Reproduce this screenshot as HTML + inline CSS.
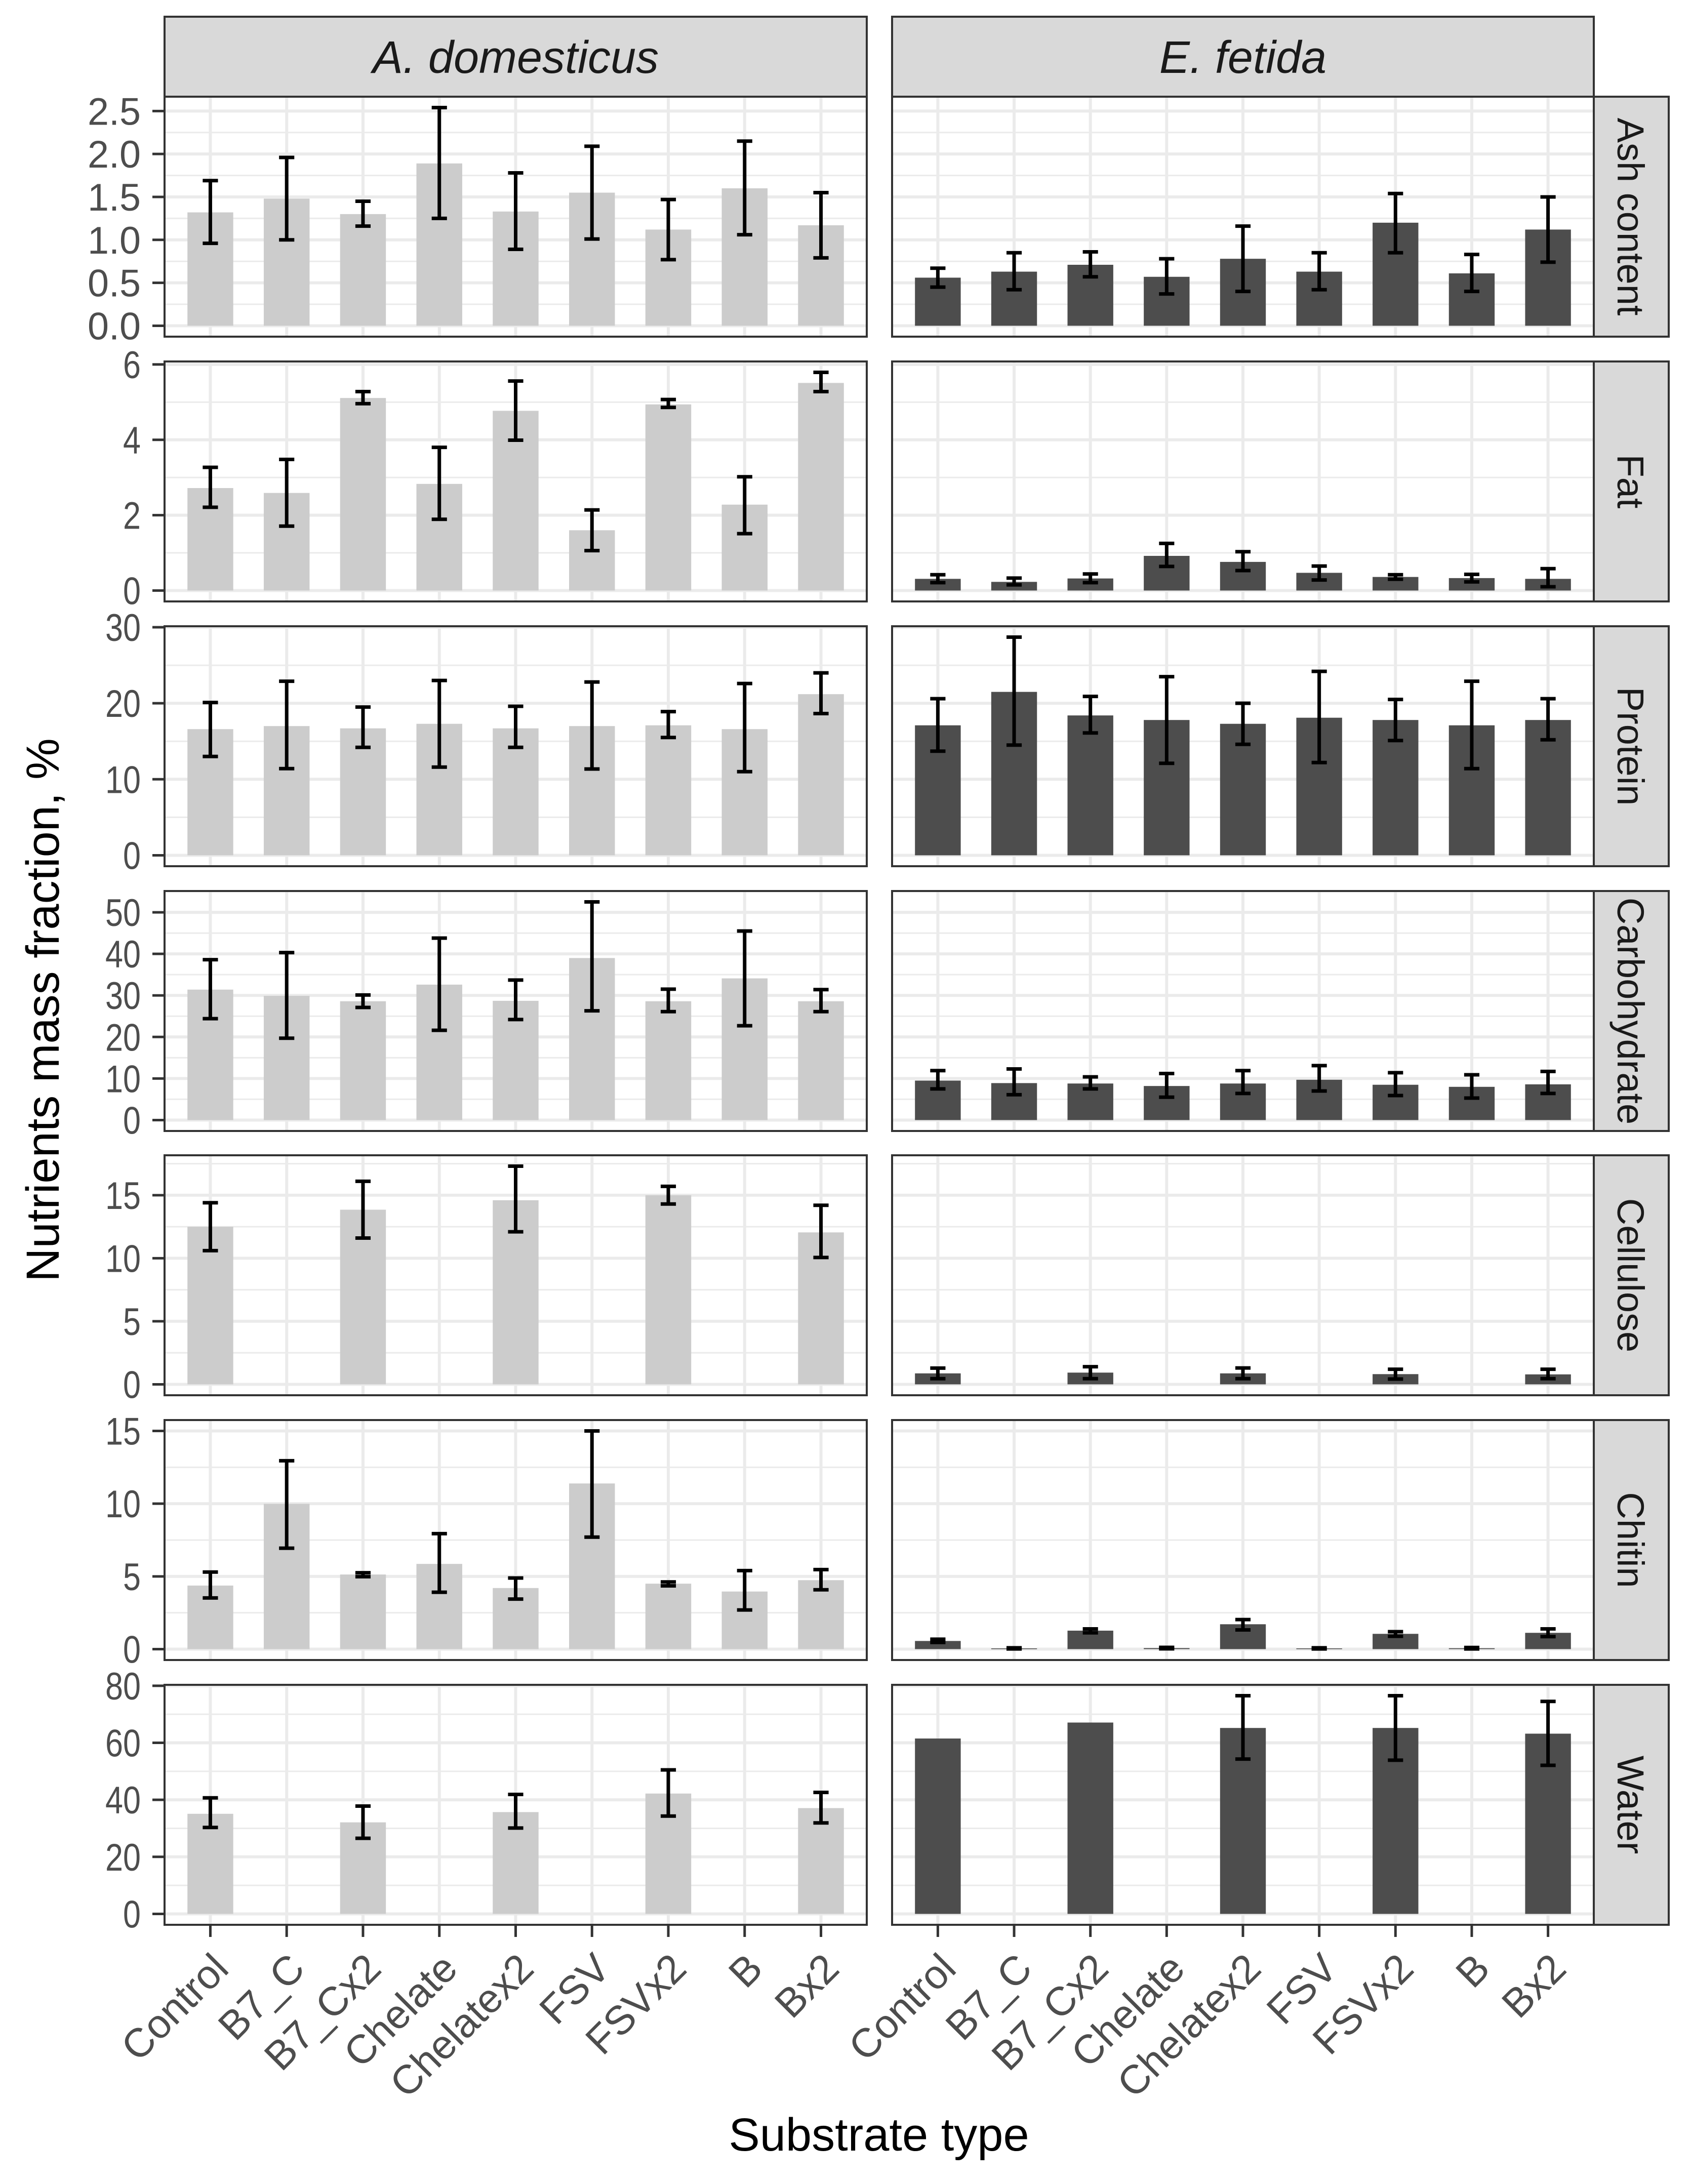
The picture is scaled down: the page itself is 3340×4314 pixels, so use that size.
<!DOCTYPE html>
<html><head><meta charset="utf-8"><style>
html,body{margin:0;padding:0;background:#fff;}
svg{display:block;}
text{font-family:"Liberation Sans",Arial,sans-serif;}
</style></head>
<body>
<svg id="chart" xmlns="http://www.w3.org/2000/svg" width="3340" height="4314" viewBox="0 0 3340 4314"></svg>
<script>
const categories = ["Control","B7_C","B7_Cx2","Chelate","Chelatex2","FSV","FSVx2","B","Bx2"];
const species = ["A. domesticus","E. fetida"];
const nutrients = ["Ash content","Fat","Protein","Carbohydrate","Cellulose","Chitin","Water"];
const tickLabels = [
  ["0.0","0.5","1.0","1.5","2.0","2.5"],
  ["0","2","4","6"],
  ["0","10","20","30"],
  ["0","10","20","30","40","50"],
  ["0","5","10","15"],
  ["0","5","10","15"],
  ["0","20","40","60","80"]
];
// A. domesticus: mean, lower, upper
const adMean = [
  [1.32,1.48,1.30,1.89,1.33,1.55,1.12,1.60,1.17],
  [2.72,2.59,5.11,2.83,4.77,1.60,4.94,2.28,5.51],
  [16.6,17.0,16.7,17.3,16.7,17.0,17.1,16.6,21.2],
  [31.4,29.9,28.6,32.6,28.7,39.0,28.6,34.1,28.6],
  [12.5,null,13.85,null,14.6,null,15.0,null,12.05],
  [4.37,9.99,5.13,5.86,4.20,11.39,4.50,3.96,4.74],
  [35.1,null,32.1,null,35.7,null,42.2,null,37.1]
];
const adLow = [
  [0.96,1.00,1.16,1.25,0.89,1.01,0.77,1.06,0.79],
  [2.21,1.71,4.96,1.89,3.99,1.06,4.86,1.51,5.28],
  [13.0,11.4,14.2,11.6,14.2,11.35,15.5,11.0,18.65],
  [24.4,19.7,27.1,21.6,24.2,26.3,26.1,22.7,26.1],
  [10.6,null,11.6,null,12.1,null,14.3,null,10.06],
  [3.52,6.94,4.98,3.91,3.44,7.70,4.35,2.69,4.08],
  [30.3,null,26.5,null,30.1,null,34.3,null,31.9]
];
const adHigh = [
  [1.69,1.96,1.45,2.54,1.78,2.09,1.47,2.15,1.55],
  [3.27,3.48,5.28,3.80,5.56,2.14,5.07,3.02,5.79],
  [20.1,22.9,19.5,23.0,19.6,22.8,18.9,22.6,24.0],
  [38.6,40.3,30.1,43.8,33.7,52.5,31.5,45.5,31.4],
  [14.4,null,16.1,null,17.3,null,15.7,null,14.2],
  [5.30,12.95,5.25,7.94,4.89,15.0,4.62,5.40,5.47],
  [40.7,null,37.8,null,41.9,null,50.5,null,42.6]
];
// E. fetida: mean, lower, upper
const efMean = [
  [0.56,0.63,0.71,0.57,0.78,0.63,1.20,0.61,1.12],
  [0.31,0.23,0.32,0.92,0.76,0.47,0.36,0.33,0.31],
  [17.1,21.5,18.4,17.8,17.3,18.1,17.8,17.1,17.8],
  [9.5,8.9,8.8,8.2,8.8,9.7,8.5,8.0,8.6],
  [0.87,null,0.93,null,0.87,null,0.81,null,0.79],
  [0.56,0.05,1.27,0.07,1.71,0.05,1.05,0.06,1.12],
  [61.5,null,67.1,null,65.2,null,65.2,null,63.2]
];
const efLow = [
  [0.45,0.42,0.57,0.37,0.40,0.42,0.85,0.40,0.74],
  [0.21,0.15,0.21,0.64,0.53,0.28,0.30,0.23,0.10],
  [13.7,14.5,16.1,12.1,14.6,12.2,15.1,11.4,15.2],
  [7.5,6.1,7.5,5.5,6.4,7.0,5.9,5.3,6.4],
  [0.45,null,0.45,null,0.45,null,0.42,null,0.45],
  [0.46,0.01,1.12,0.02,1.32,0.01,0.88,0.01,0.86],
  [61.5,null,67.1,null,54.3,null,53.9,null,52.1]
];
const efHigh = [
  [0.67,0.85,0.86,0.78,1.16,0.85,1.54,0.83,1.50],
  [0.42,0.33,0.44,1.25,1.03,0.65,0.42,0.43,0.58],
  [20.6,28.7,20.9,23.5,20.0,24.2,20.5,22.9,20.6],
  [11.9,12.3,10.4,11.2,11.9,13.1,11.4,10.9,11.7],
  [1.29,null,1.40,null,1.30,null,1.20,null,1.20],
  [0.68,0.09,1.39,0.12,2.03,0.09,1.20,0.11,1.39],
  [61.5,null,67.1,null,76.5,null,76.5,null,74.5]
];

const NS = "http://www.w3.org/2000/svg";
const svg = document.getElementById("chart");
function mk(tag, attrs, parent){
  const e = document.createElementNS(NS, tag);
  for (const k in attrs) e.setAttribute(k, attrs[k]);
  (parent||svg).appendChild(e);
  return e;
}
const colX = [[325,1712],[1762,3148]];
const rowTop = [191,714,1237,1760,2282,2805,3328];
const rowH = 474;
const stripTop = 33, stripRight = 3296;
const barFill = ["#cccccc","#4d4d4d"];
const means=[adMean,efMean], lows=[adLow,efLow], highs=[adHigh,efHigh];

function xScale(c, i){
  const [x0,x1]=colX[c];
  const step=(x1-x0)/(categories.length-1+1.2);
  return x0+step*(0.6+i);
}
function stepW(c){const [x0,x1]=colX[c];return (x1-x0)/(categories.length-1+1.2);}

species.forEach((s,c)=>{
  const g = mk("g",{});
  
  
  mk("rect",{x:colX[c][0],y:stripTop,width:colX[c][1]-colX[c][0],height:rowTop[0]-stripTop,fill:"#d9d9d9",stroke:"#333333","stroke-width":4},g);
  const t = mk("text",{x:(colX[c][0]+colX[c][1])/2,y:(stripTop+rowTop[0])/2+32,"text-anchor":"middle","font-size":90,"font-style":"italic",fill:"#1a1a1a"},g);
  t.textContent = s;
});

nutrients.forEach((n,r)=>{
  const top=rowTop[r], bot=top+rowH;
  let mx=0;
  [0,1].forEach(c=>{for(let i=0;i<categories.length;i++){const v=highs[c][r][i]; if(v!=null&&v>mx)mx=v; const m=means[c][r][i]; if(m!=null&&m>mx)mx=m;}});
  const lo=-0.05*mx, hi=mx*1.05;
  const y = v => bot-(v-lo)/(hi-lo)*rowH;
  const ticks = tickLabels[r].map(Number);
  const tstep = ticks[1]-ticks[0];
  const slug = n.toLowerCase().replace(/ /g,'-');
  [0,1].forEach(c=>{
    const [x0,x1]=colX[c];
    const g = mk("g",{});
    
    
    mk("rect",{x:x0,y:top,width:x1-x0,height:rowH,fill:"#ffffff"},g);
    for(let k=0;k<=ticks.length;k++){
      const v=ticks[0]+tstep*(k-0.5);
      if(v<lo||v>hi) continue;
      mk("line",{x1:x0,x2:x1,y1:y(v),y2:y(v),stroke:"#ebebeb","stroke-width":3},g);
    }
    ticks.forEach(v=>{ if(v<=hi) mk("line",{x1:x0,x2:x1,y1:y(v),y2:y(v),stroke:"#ebebeb","stroke-width":6},g); });
    categories.forEach((cat,i)=>{ const xx=xScale(c,i); mk("line",{x1:xx,x2:xx,y1:top,y2:bot,stroke:"#ebebeb","stroke-width":6},g); });
    const bw=stepW(c)*0.6, cw=stepW(c)*0.2;
    categories.forEach((cat,i)=>{
      const m=means[c][r][i]; if(m==null) return;
      const xx=xScale(c,i);
      const b = mk("rect",{x:xx-bw/2,y:y(m),width:bw,height:Math.max(y(0)-y(m),1.5),fill:barFill[c]},g);
      
      
      const l=lows[c][r][i], h=highs[c][r][i];
      if(l!=null && h!=null && h-l>0.001){
        const eg = mk("g",{stroke:"#000","stroke-width":7},g);
        
        
        mk("line",{x1:xx,x2:xx,y1:y(h),y2:y(l)},eg);
        mk("line",{x1:xx-cw/2,x2:xx+cw/2,y1:y(h),y2:y(h)},eg);
        mk("line",{x1:xx-cw/2,x2:xx+cw/2,y1:y(l),y2:y(l)},eg);
      }
    });
    mk("rect",{x:x0,y:top,width:x1-x0,height:rowH,fill:"none",stroke:"#333333","stroke-width":4},g);
  });
  const ya = mk("g",{});
  
  
  ticks.forEach((v,k)=>{
    mk("line",{x1:301,x2:325,y1:y(v),y2:y(v),stroke:"#333333","stroke-width":5},ya);
    const lab=tickLabels[r][k];
    const t=mk("text",{x:278,y:y(v)+27,"text-anchor":"end","font-size":76,fill:"#4d4d4d",textLength:lab.length*35,lengthAdjust:"spacingAndGlyphs"},ya);
    t.textContent=lab;
  });
  const sg = mk("g",{});
  
  
  mk("rect",{x:colX[1][1],y:top,width:stripRight-colX[1][1],height:rowH,fill:"#d9d9d9",stroke:"#333333","stroke-width":4},sg);
  const cx=(colX[1][1]+stripRight)/2, cy=top+rowH/2;
  const st=mk("text",{x:cx,y:cy,"text-anchor":"middle","font-size":74,fill:"#1a1a1a",transform:"rotate(90 "+cx+" "+cy+") translate(0 27)"},sg);
  st.textContent=n;
});

const xb = rowTop[6]+rowH;
[0,1].forEach(c=>{
  const g = mk("g",{});
  
  
  categories.forEach((cat,i)=>{
    const xx=xScale(c,i);
    mk("line",{x1:xx,x2:xx,y1:xb,y2:xb+24,stroke:"#333333","stroke-width":5},g);
    const px=xx+40, py=3893;
    const t=mk("text",{x:px,y:py,"text-anchor":"end","font-size":80,fill:"#4d4d4d",transform:"rotate(-45 "+px+" "+py+")"},g);
    t.textContent=cat;
  });
});

const yt = mk("text",{x:0,y:0,"text-anchor":"middle","font-size":92,fill:"#000",transform:"translate(116 1995) rotate(-90)"});


yt.textContent="Nutrients mass fraction, %";
const xt = mk("text",{x:1736,y:4248,"text-anchor":"middle","font-size":92,fill:"#000"});


xt.textContent="Substrate type";
</script>
</body></html>
